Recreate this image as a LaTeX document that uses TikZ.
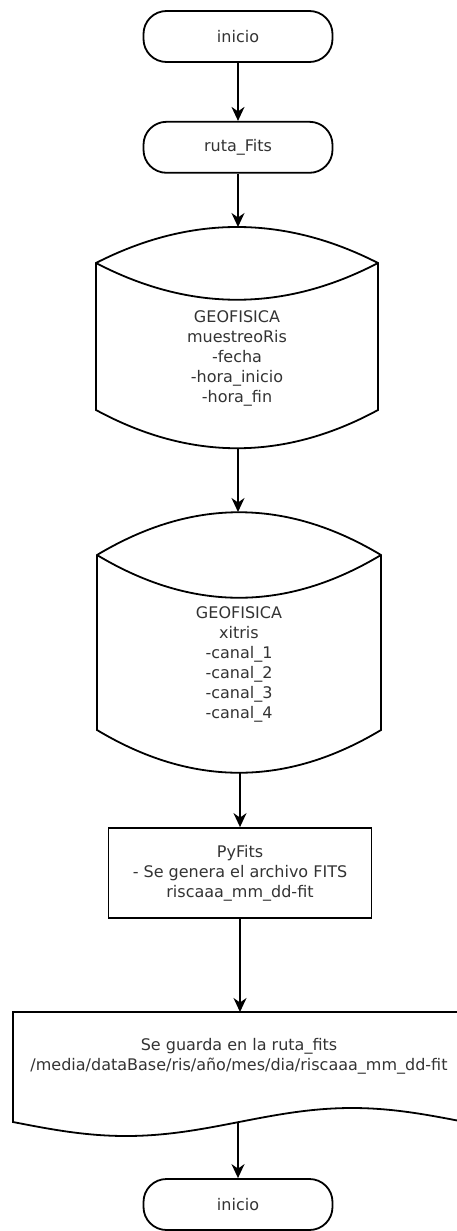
\documentclass[tikz,border=0pt]{standalone}
\usepackage{fontspec}
\setmainfont{DejaVu Sans}
\usetikzlibrary{arrows.meta,positioning}

\begin{document}
\begin{tikzpicture}[x=1pt,y=-1pt,
  every node/.style={font=\fontsize{16}{20}\selectfont,text=black!80,align=center},
  term/.style={draw,line width=1.8pt,rounded corners=23pt,
               minimum width=189pt,minimum height=51pt},
  proc/.style={draw,line width=1.8pt,minimum width=263pt,minimum height=90pt},
  outline/.style={line width=1.8pt},
  flow/.style={line width=1.8pt,-{Stealth[length=14pt,width=13pt,inset=4.5pt]}}]
  \useasboundingbox (0,0) rectangle (457,1231);

  \node [term] (inicio) at (238,36.5) {inicio};
  \node [term] (ruta) [below=58pt of inicio] {ruta\_Fits};

  \draw [outline] (96,263) .. controls (190,215) and (284,215) .. (378,263)
    -- (378,410) .. controls (284,461) and (190,461) .. (96,410) -- cycle;
  \draw [outline] (96,263) .. controls (190,312) and (284,312) .. (378,263);
  \node (muestreo) at (237,358)
    {GEOFISICA\\muestreoRis\\-fecha\\-hora\_inicio\\-hora\_fin};
  \coordinate (muestreoN) at (238,227);
  \coordinate (muestreoS) at (238,448);

  \draw [outline] (97,555) .. controls (192,498) and (286,498) .. (381,555)
    -- (381,730) .. controls (286,787) and (192,787) .. (97,730) -- cycle;
  \draw [outline] (97,555) .. controls (192,612) and (286,612) .. (381,555);
  \node (xitris) at (239,664)
    {GEOFISICA\\xitris\\-canal\_1\\-canal\_2\\-canal\_3\\-canal\_4};
  \coordinate (xitrisN) at (238,512);
  \coordinate (xitrisS) at (240,773);

  \node [proc] (pyfits) at (240,873)
    {PyFits\\- Se genera el archivo FITS\\riscaaa\_mm\_dd-fit};

  \draw [outline] (13,1012) -- (465,1012) -- (465,1122) sin (352,1108)
    cos (239,1122) sin (126,1136) cos (13,1122) -- cycle;
  \node (guarda) at (239,1056)
    {Se guarda en la ruta\_fits\\/media/dataBase/ris/año/mes/dia/riscaaa\_mm\_dd-fit};
  \coordinate (guardaN) at (240,1012);
  \coordinate (guardaS) at (238,1122);

  \node [term] (fin) at (238,1204.5) {inicio};

  \draw [flow] (inicio) -- (ruta);
  \draw [flow] (ruta) -- (muestreoN);
  \draw [flow] (muestreoS) -- (xitrisN);
  \draw [flow] (xitrisS) -- (pyfits);
  \draw [flow] (pyfits) -- (guardaN);
  \draw [flow] (guardaS) -- (fin);
\end{tikzpicture}
\end{document}
